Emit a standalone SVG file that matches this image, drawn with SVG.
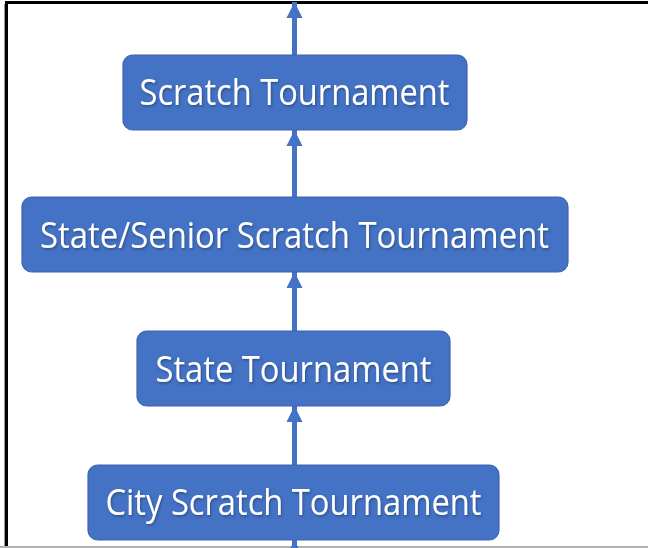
<svg xmlns="http://www.w3.org/2000/svg" width="648" height="548" viewBox="0 0 648 548">
<defs>
<style>
.node rect{fill:#4472C4;stroke:#3B64AD;stroke-width:1.2}
.node text{fill:#ffffff;font-family:"Open Sans","Liberation Sans",Arial,sans-serif;font-size:36px;text-anchor:middle}
.conn line{stroke:#4472C4;stroke-width:5}
</style>
<filter id="sh" x="-5%" y="-20%" width="110%" height="140%">
<feDropShadow dx="1" dy="1.5" stdDeviation="0.8" flood-color="#1f3763" flood-opacity="0.6"/>
</filter>
<marker id="ah" viewBox="0 0 10 10" refX="10" refY="5" markerWidth="3.2" markerHeight="3.7" orient="auto" markerUnits="strokeWidth">
<path d="M0,0 L10,5 L0,10 z" fill="#4472C4"/>
</marker>
</defs>
<rect x="0" y="0" width="648" height="548" fill="#ffffff"/>
<rect x="5" y="1" width="643" height="3" fill="#000000"/>
<rect x="5" y="1" width="3" height="545" fill="#000000"/>
<rect x="4" y="4" width="1" height="542" fill="#9a9a9a"/>
<rect x="0" y="546" width="648" height="2" fill="#b0b0b0"/>
<g id="connectors" class="conn">
<line x1="294.5" y1="56" x2="294.5" y2="2" marker-end="url(#ah)"/>
<line x1="294.5" y1="198" x2="294.5" y2="130" marker-end="url(#ah)"/>
<line x1="294.5" y1="332" x2="294.5" y2="272" marker-end="url(#ah)"/>
<line x1="294.5" y1="465" x2="294.5" y2="406" marker-end="url(#ah)"/>
<line x1="294.5" y1="560" x2="294.5" y2="540" marker-end="url(#ah)"/>
</g>
<g id="n1" class="node">
<rect x="123" y="55" width="344" height="75" rx="10"/>
<text x="294.5" y="105" textLength="310" lengthAdjust="spacingAndGlyphs" filter="url(#sh)">Scratch Tournament</text>
</g>
<g id="n2" class="node">
<rect x="22" y="197" width="546" height="75" rx="10"/>
<text x="294.5" y="248" textLength="509" lengthAdjust="spacingAndGlyphs" filter="url(#sh)">State/Senior Scratch Tournament</text>
</g>
<g id="n3" class="node">
<rect x="137" y="331" width="313" height="75" rx="10"/>
<text x="293.5" y="382" textLength="276" lengthAdjust="spacingAndGlyphs" filter="url(#sh)">State Tournament</text>
</g>
<g id="n4" class="node">
<rect x="88" y="465" width="411" height="75" rx="10"/>
<text x="293.5" y="515" textLength="376" lengthAdjust="spacingAndGlyphs" filter="url(#sh)">City Scratch Tournament</text>
</g>
</svg>
